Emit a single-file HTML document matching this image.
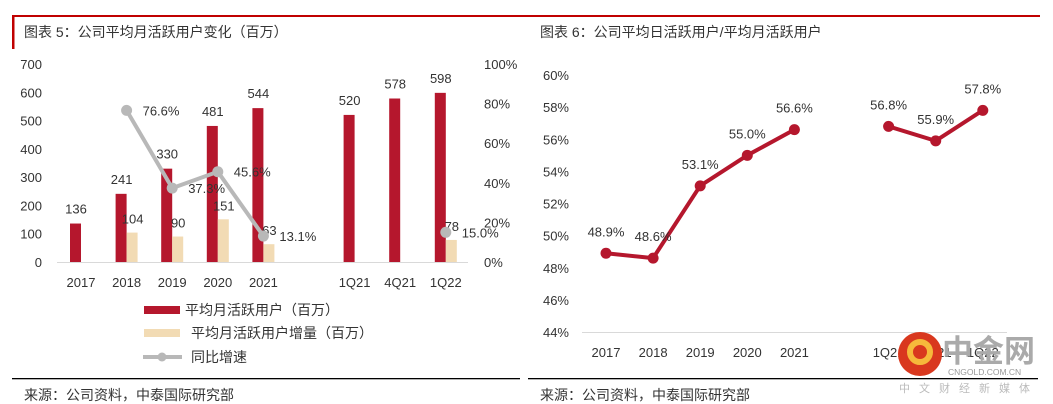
<!DOCTYPE html>
<html><head><meta charset="utf-8"><style>
body{margin:0;width:1053px;height:404px;background:#fff;overflow:hidden;font-family:"Liberation Sans","Noto Sans CJK SC",sans-serif;}
svg{display:block}
text{font-family:"Liberation Sans","Noto Sans CJK SC",sans-serif;fill:#333}
</style></head><body>
<svg id="s" width="1053" height="404">
<rect x="12" y="15" width="1028" height="2" fill="#c00000"/>
<rect x="12" y="15" width="2.5" height="34" fill="#c00000"/>
<text x="24" y="37" font-size="14" fill="#333">图表 5：公司平均月活跃用户变化（百万）</text>
<text x="540" y="37" font-size="14" fill="#333">图表 6：公司平均日活跃用户/平均月活跃用户</text>
<rect x="12" y="378" width="508" height="1.3" fill="#000"/>
<rect x="528" y="378" width="510" height="1.3" fill="#000"/>
<text x="24" y="400" font-size="14">来源：公司资料，中泰国际研究部</text>
<text x="540" y="400" font-size="14">来源：公司资料，中泰国际研究部</text>
<g id="c1"></g>
<g id="c2"></g>
<g id="wm">
<circle cx="920" cy="354" r="22" fill="#d9381e"/>
<circle cx="920" cy="352" r="10" fill="none" stroke="#f6b93b" stroke-width="6"/>
<text x="942" y="362" font-size="31" font-weight="bold" style="fill:#aaa">中金网</text>
<text x="948" y="375" font-size="8.5" style="fill:#999">CNGOLD.COM.CN</text>
<text x="899" y="392" font-size="11" letter-spacing="9" style="fill:#bbb">中文财经新媒体</text>
</g>
</svg>
<script>
const ns='http://www.w3.org/2000/svg';
function mk(p,t,a,txt){const e=document.createElementNS(ns,t);for(const k in a)e.setAttribute(k,a[k]);if(txt!==undefined)e.textContent=txt;p.appendChild(e);return e;}
// Chart 5 data
const cats1=['2017','2018','2019','2020','2021','1Q21','4Q21','1Q22'];
const mau=[136,241,330,481,544,520,578,598];
const mauInc=[null,104,90,151,63,null,null,78];
const yoy=[null,76.6,37.3,45.6,13.1,null,null,15.0];
const leftTicks=[0,100,200,300,400,500,600,700];
const rightTicks=[0,20,40,60,80,100];
// Chart 6 data
const cats2=['2017','2018','2019','2020','2021','1Q21','4Q21','1Q22'];
const ratio=[48.9,48.6,53.1,55.0,56.6,56.8,55.9,57.8];
const ticks2=[44,46,48,50,52,54,56,58,60];

const g1=document.getElementById('c1');
const xc1=i=>81+i*45.6+(i>=5?45.6:0);
const yL=v=>262-v*(198/700);
const yR=v=>262-v*1.98;
mk(g1,'line',{x1:57,x2:468,y1:262.5,y2:262.5,stroke:'#d9d9d9','stroke-width':1});
leftTicks.forEach(v=>{const t=mk(g1,'text',{x:42,y:yL(v)+5,'font-size':13,'text-anchor':'end'},v);

});
rightTicks.forEach(v=>{const t=mk(g1,'text',{x:484,y:yR(v)+5,'font-size':13},v+'%');

});
cats1.forEach((c,i)=>{const t=mk(g1,'text',{x:xc1(i),y:287,'font-size':13,'text-anchor':'middle'},c);

});
mau.forEach((v,i)=>{const x=xc1(i);
const r=mk(g1,'rect',{x:x-11,y:yL(v),width:11,height:262-yL(v),fill:'#b5172d'});


const t=mk(g1,'text',{x:x-5,y:yL(v)-10,'font-size':13,'text-anchor':'middle'},v);

});
mauInc.forEach((v,i)=>{if(v==null)return;const x=xc1(i);
const r=mk(g1,'rect',{x:x,y:yL(v),width:11,height:262-yL(v),fill:'#f2dbb4'});


const t=mk(g1,'text',{x:x+6,y:yL(v)-9,'font-size':13,'text-anchor':'middle'},v);

});
let pts=[];yoy.forEach((v,i)=>{if(v!=null&&i<=4)pts.push(xc1(i)+','+yR(v));});
const pl=mk(g1,'polyline',{points:pts.join(' '),fill:'none',stroke:'#b8b8b8','stroke-width':4,'stroke-linejoin':'round'});


yoy.forEach((v,i)=>{if(v==null)return;const x=xc1(i),y=yR(v);
const c=mk(g1,'circle',{cx:x,cy:y,r:5.5,fill:'#b8b8b8'});


const t=mk(g1,'text',{x:x+16,y:y+5,'font-size':13},v.toFixed(1)+'%');

});
// legend
const l1=mk(g1,'rect',{x:144,y:306,width:36,height:8,fill:'#b5172d'});


const lt1=mk(g1,'text',{x:185,y:315,'font-size':14},'平均月活跃用户（百万）');


const l2=mk(g1,'rect',{x:144,y:329,width:36,height:8,fill:'#f2dbb4'});


const lt2=mk(g1,'text',{x:191,y:338,'font-size':14},'平均月活跃用户增量（百万）');


const l3=mk(g1,'line',{x1:143,x2:182,y1:357,y2:357,stroke:'#b8b8b8','stroke-width':4});


mk(g1,'circle',{cx:162,cy:357,r:4.5,fill:'#b8b8b8'});
const lt3=mk(g1,'text',{x:191,y:362,'font-size':14},'同比增速');



// Chart 6
const g2=document.getElementById('c2');
const xc2=i=>606+i*47.1+(i>=5?47.1:0);
const y2=v=>332-(v-44)*(257/16);
mk(g2,'line',{x1:582,x2:1007,y1:332.5,y2:332.5,stroke:'#d9d9d9','stroke-width':1});
ticks2.forEach(v=>{const t=mk(g2,'text',{x:569,y:y2(v)+5,'font-size':13,'text-anchor':'end'},v+'%');

});
cats2.forEach((c,i)=>{const t=mk(g2,'text',{x:xc2(i),y:357,'font-size':13,'text-anchor':'middle'},c);

});
[[0,5],[5,8]].forEach(([a,b])=>{const p=[];for(let i=a;i<b;i++)p.push(xc2(i)+','+y2(ratio[i]));
const l=mk(g2,'polyline',{points:p.join(' '),fill:'none',stroke:'#b5172d','stroke-width':4,'stroke-linejoin':'round'});

});
ratio.forEach((v,i)=>{const x=xc2(i),y=y2(v);
const c=mk(g2,'circle',{cx:x,cy:y,r:5.5,fill:'#b5172d'});


const t=mk(g2,'text',{x:x,y:y-17,'font-size':13,'text-anchor':'middle'},v.toFixed(1)+'%');

});
document.getElementById('s').appendChild(document.getElementById('wm'));
</script>
</body></html>
